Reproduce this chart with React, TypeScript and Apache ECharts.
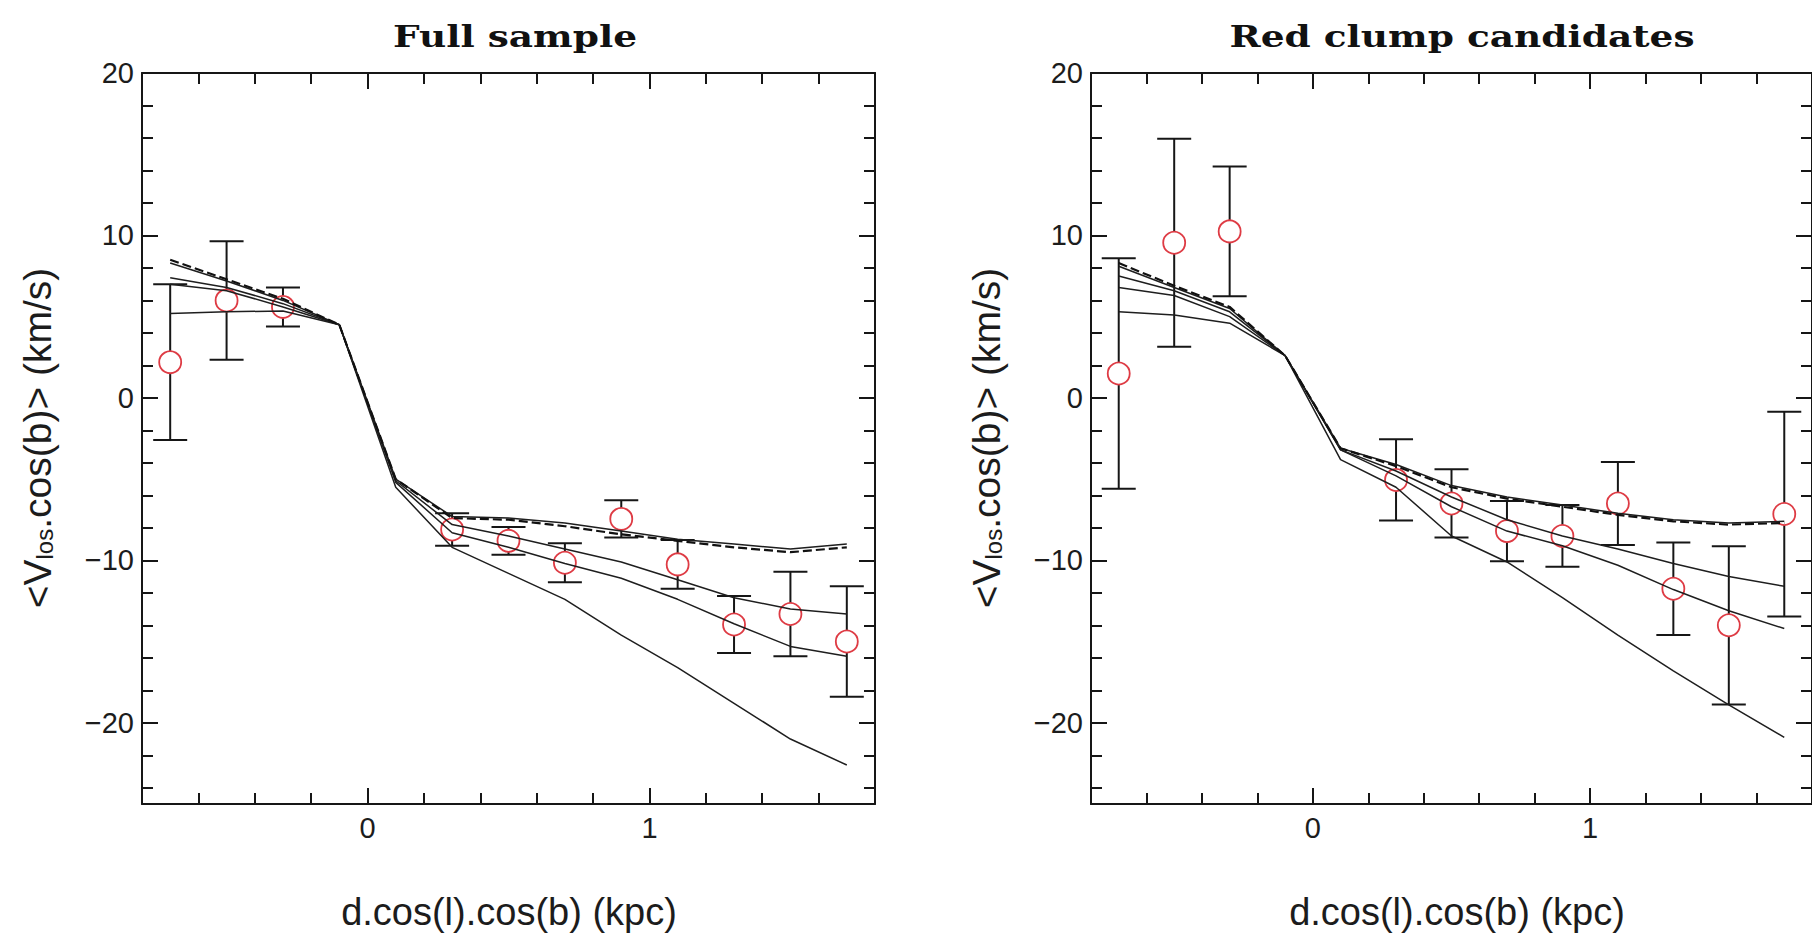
import React, { useEffect, useRef } from 'react';
import * as echarts from 'echarts';

// Observed bins (km/s vs kpc)
const binX = [-0.7, -0.5, -0.3, 0.3, 0.5, 0.7, 0.9, 1.1, 1.3, 1.5, 1.7];
// Model curves sampling
const modelX = [-0.7, -0.5, -0.3, -0.1, 0.1, 0.3, 0.5, 0.7, 0.9, 1.1, 1.3, 1.5, 1.7];

// Full sample
const fullMean = [2.2, 6.0, 5.6, -8.1, -8.8, -10.15, -7.45, -10.25, -13.95, -13.3, -15.0];
const fullErr = [4.8, 3.65, 1.2, 1.0, 0.85, 1.2, 1.15, 1.5, 1.75, 2.6, 3.4];
const fullModelDashed = [8.5, 7.3, 6.1, 4.5, -5.0, -7.4, -7.5, -7.9, -8.4, -8.8, -9.2, -9.5, -9.2];
const fullModel1 = [8.3, 7.2, 6.0, 4.5, -5.0, -7.3, -7.4, -7.7, -8.2, -8.7, -9.0, -9.3, -9.0];
const fullModel2 = [7.4, 6.8, 5.8, 4.5, -5.1, -7.8, -8.5, -9.3, -10.1, -11.2, -12.3, -13.0, -13.3];
const fullModel3 = [7.0, 6.6, 5.6, 4.5, -5.2, -8.3, -9.2, -10.2, -11.1, -12.4, -13.9, -15.3, -15.9];
const fullModel4 = [5.2, 5.3, 5.35, 4.5, -5.5, -9.2, -10.8, -12.4, -14.6, -16.6, -18.8, -21.0, -22.6];

// Red clump candidates
const rcMean = [1.5, 9.55, 10.25, -5.05, -6.5, -8.2, -8.5, -6.5, -11.75, -14.0, -7.15];
const rcErr = [7.1, 6.4, 4.0, 2.5, 2.1, 1.85, 1.9, 2.55, 2.85, 4.87, 6.3];
const rcModelDashed = [8.3, 6.9, 5.6, 2.6, -3.1, -4.2, -5.5, -6.2, -6.7, -7.2, -7.6, -7.8, -7.7];
const rcModel1 = [8.1, 6.8, 5.5, 2.6, -3.1, -4.1, -5.4, -6.1, -6.6, -7.1, -7.5, -7.7, -7.6];
const rcModel2 = [7.5, 6.6, 5.3, 2.6, -3.2, -4.5, -6.1, -7.5, -8.5, -9.3, -10.2, -11.0, -11.6];
const rcModel3 = [6.8, 6.3, 5.0, 2.6, -3.2, -4.8, -6.7, -8.2, -9.1, -10.3, -11.8, -13.1, -14.2];
const rcModel4 = [5.3, 5.1, 4.6, 2.6, -3.8, -5.5, -8.5, -10.1, -12.3, -14.6, -16.8, -18.9, -20.9];

// Axes
const xMin = -0.8;
const xMax = 1.8;
const xStep = 0.2;
const xMajor = [0, 1];
const yMin = -25;
const yMax = 20;
const yMajor = [-20, -10, 0, 10, 20];
const yMinor = [-24, -22, -18, -16, -14, -12, -8, -6, -4, -2, 2, 4, 6, 8, 12, 14, 16, 18];

const titles = ['Full sample', 'Red clump candidates'];
const xName = 'd.cos(l).cos(b) (kpc)';
const yName = '<V{sub|los}.cos(b)> (km/s)';

const INK = '#161616';
const RED = '#de3b44';

const panels = [
  { mean: fullMean, err: fullErr, solids: [fullModel1, fullModel2, fullModel3, fullModel4], dashed: fullModelDashed,
    grid: { left: 142, top: 73, width: 733, height: 731 }, titleX: 515, xNameX: 509, yNameX: 37 },
  { mean: rcMean, err: rcErr, solids: [rcModel1, rcModel2, rcModel3, rcModel4], dashed: rcModelDashed,
    grid: { left: 1091, top: 73, width: 730, height: 731 }, titleX: 1462, xNameX: 1457, yNameX: 986 },
];

const fmtY = (v: number) => (v < 0 ? '\u2212' + Math.abs(v) : String(v));
const fmtX = (v: number) => (Math.abs(v - Math.round(v)) < 1e-6 ? String(Math.round(v)) : '');

function buildOption() {
  const grid: any[] = [];
  const xAxis: any[] = [];
  const yAxis: any[] = [];
  const series: any[] = [];
  const graphic: any[] = [];
  const lineStyle = { color: INK, width: 2 };
  const labelStyle = { color: '#1c1c1c', fontFamily: 'Liberation Sans, Arial, sans-serif', fontSize: 29 };

  panels.forEach((p, i) => {
    grid.push({ ...p.grid, containLabel: false });
    const xBase = { type: 'value', gridIndex: i, min: xMin, max: xMax, splitLine: { show: false } };
    xAxis.push(
      { ...xBase, position: 'bottom', interval: xStep,
        axisLine: { show: true, onZero: false, lineStyle },
        axisTick: { show: true, inside: true, length: 11, lineStyle },
        axisLabel: { show: true, margin: 9, formatter: fmtX, showMinLabel: false, showMaxLabel: false, ...labelStyle } },
      { ...xBase, position: 'bottom', interval: xStep,
        axisLine: { show: false, onZero: false },
        axisTick: { show: true, inside: true, length: 16, customValues: xMajor, lineStyle },
        axisLabel: { show: false } },
      { ...xBase, position: 'top', interval: xStep,
        axisLine: { show: true, onZero: false, lineStyle },
        axisTick: { show: true, inside: true, length: 11, lineStyle },
        axisLabel: { show: false } },
      { ...xBase, position: 'top', interval: xStep,
        axisLine: { show: false, onZero: false },
        axisTick: { show: true, inside: true, length: 16, customValues: xMajor, lineStyle },
        axisLabel: { show: false } }
    );
    const yBase = { type: 'value', gridIndex: i, min: yMin, max: yMax, splitLine: { show: false } };
    yAxis.push(
      { ...yBase, position: 'left',
        axisLine: { show: true, onZero: false, lineStyle },
        axisTick: { show: true, inside: true, length: 16, customValues: yMajor, lineStyle },
        axisLabel: { show: true, margin: 8, customValues: yMajor, formatter: fmtY, ...labelStyle } },
      { ...yBase, position: 'left',
        axisLine: { show: false, onZero: false },
        axisTick: { show: true, inside: true, length: 11, customValues: yMinor, lineStyle },
        axisLabel: { show: false } },
      { ...yBase, position: 'right',
        axisLine: { show: true, onZero: false, lineStyle },
        axisTick: { show: true, inside: true, length: 16, customValues: yMajor, lineStyle },
        axisLabel: { show: false } },
      { ...yBase, position: 'right',
        axisLine: { show: false, onZero: false },
        axisTick: { show: true, inside: true, length: 11, customValues: yMinor, lineStyle },
        axisLabel: { show: false } }
    );

    const xi = i * 4;
    const yi = i * 4;

    series.push({
      type: 'custom',
      xAxisIndex: xi,
      yAxisIndex: yi,
      z: 2,
      silent: true,
      data: binX.map((x, k) => [x, p.mean[k], p.err[k]]),
      encode: { x: 0, y: 1 },
      renderItem: (params: any, api: any) => {
        const x = api.value(0);
        const y = api.value(1);
        const e = api.value(2);
        const top = api.coord([x, y + e]);
        const bot = api.coord([x, y - e]);
        const hw = 17;
        const st = { stroke: INK, lineWidth: 2 };
        return {
          type: 'group',
          children: [
            { type: 'line', shape: { x1: top[0], y1: top[1], x2: bot[0], y2: bot[1] }, style: st },
            { type: 'line', shape: { x1: top[0] - hw, y1: top[1], x2: top[0] + hw, y2: top[1] }, style: st },
            { type: 'line', shape: { x1: bot[0] - hw, y1: bot[1], x2: bot[0] + hw, y2: bot[1] }, style: st },
          ],
        };
      },
    });

    series.push({
      type: 'scatter',
      xAxisIndex: xi,
      yAxisIndex: yi,
      z: 3,
      symbol: 'circle',
      symbolSize: 22,
      itemStyle: { color: '#ffffff', borderColor: RED, borderWidth: 1.8, opacity: 1 },
      data: binX.map((x, k) => [x, p.mean[k]]),
    });

    p.solids.forEach((m) => {
      series.push({
        type: 'line',
        xAxisIndex: xi,
        yAxisIndex: yi,
        z: 4,
        showSymbol: false,
        symbol: 'none',
        lineStyle: { color: '#1e1e1e', width: 1.5 },
        data: modelX.map((x, k) => [x, m[k]]),
      });
    });
    series.push({
      type: 'line',
      xAxisIndex: xi,
      yAxisIndex: yi,
      z: 5,
      showSymbol: false,
      symbol: 'none',
      lineStyle: { color: '#111', width: 2.2, type: [9, 4] },
      data: modelX.map((x, k) => [x, p.dashed[k]]),
    });

    graphic.push(
      { type: 'text', x: p.titleX, y: 36, scaleX: 1.25, silent: true,
        style: { text: titles[i], fontFamily: 'DejaVu Serif', fontWeight: 'bold', fontSize: 30, fill: '#111',
          align: 'center', verticalAlign: 'middle', textAlign: 'center', textVerticalAlign: 'middle' } },
      { type: 'text', x: p.xNameX, y: 912, silent: true,
        style: { text: xName, fontFamily: 'Liberation Sans, Arial, sans-serif', fontSize: 38, fill: '#1c1c1c',
          align: 'center', verticalAlign: 'middle', textAlign: 'center', textVerticalAlign: 'middle' } },
      { type: 'text', x: p.yNameX, y: 438, rotation: Math.PI / 2, silent: true,
        style: { text: yName, fontFamily: 'Liberation Sans, Arial, sans-serif', fontSize: 39, fill: '#1c1c1c',
          align: 'center', verticalAlign: 'middle', textAlign: 'center', textVerticalAlign: 'middle',
          rich: { sub: { fontSize: 24, lineHeight: 34, verticalAlign: 'bottom', fontFamily: 'Liberation Sans, Arial, sans-serif', fill: '#1c1c1c' } } } }
    );
  });

  return {
    animation: false,
    backgroundColor: '#ffffff',
    grid,
    xAxis,
    yAxis,
    series,
    graphic,
  };
}

export default function App() {
  const ref = useRef<HTMLDivElement>(null);
  useEffect(() => {
    if (!ref.current) return;
    const chart = echarts.init(ref.current, null, { renderer: 'svg' });
    chart.setOption(buildOption() as any);
    return () => {
      chart.dispose();
    };
  }, []);
  return (
    <div
      ref={ref}
      style={{ position: 'fixed', left: 0, top: 0, width: 1812, height: 935, background: '#fff', overflow: 'hidden' }}
    />
  );
}
